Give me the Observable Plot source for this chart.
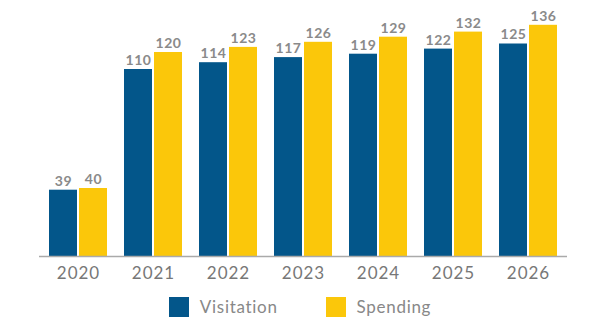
<!DOCTYPE html>
<html>
<head>
<meta charset="utf-8">
<script src="https://cdn.jsdelivr.net/npm/d3@7"></script>
<script src="https://cdn.jsdelivr.net/npm/@observablehq/plot@0.6"></script>
<style>
  body { margin: 0; background: #fff; font-family: Lato, "Open Sans", sans-serif; }
  #chart { width: 600px; height: 325px; position: relative; }
  .legend { position: absolute; top: 296px; left: 0; width: 600px; display: flex; justify-content: center; }
  .item { display: flex; align-items: center; font-size: 17px; color: #888; letter-spacing: 0.7px; }
  .swatch { width: 20px; height: 20px; margin-right: 11px; }
  g[aria-label="x-axis tick label"] text { letter-spacing: 1px; }
  g[aria-label="text"] text { letter-spacing: 0.6px; }
</style>
</head>
<body>
<div id="chart"></div>
<script>
const years = ["2020", "2021", "2022", "2023", "2024", "2025", "2026"];
const series = ["Visitation", "Spending"];
const visitation = [39, 110, 114, 117, 119, 122, 125];
const spending = [40, 120, 123, 126, 129, 132, 136];
const colors = ["#03568a", "#fbc70a"];

const data = [];
years.forEach((y, i) => {
  data.push({year: y, series: "Visitation", value: visitation[i]});
  data.push({year: y, series: "Spending", value: spending[i]});
});
const vis = data.filter(d => d.series === "Visitation");
const spd = data.filter(d => d.series === "Spending");

const plot = Plot.plot({
  width: 600,
  height: 285,
  marginLeft: 39,
  marginRight: 33,
  marginTop: 1,
  marginBottom: 29,
  style: {fontFamily: "Lato, 'Open Sans', sans-serif", background: "transparent"},
  x: {domain: years, paddingInner: 0.23, paddingOuter: 0.12, label: null},
  y: {domain: [0, 150], axis: null},
  marks: [
    Plot.barY(vis, {x: "year", y: "value", fill: colors[0], insetRight: 30}),
    Plot.barY(spd, {x: "year", y: "value", fill: colors[1], insetLeft: 30}),
    Plot.text(vis, {x: "year", y: "value", text: d => String(d.value), dx: -15, dy: -9, fontSize: 14, fontWeight: "bold", fill: "#8a8a8a"}),
    Plot.text(spd, {x: "year", y: "value", text: d => String(d.value), dx: 15, dy: -9, fontSize: 14, fontWeight: "bold", fill: "#8a8a8a"}),
    Plot.ruleY([0], {stroke: "#aaa", strokeWidth: 1.5}),
    Plot.axisX({tickSize: 0, tickPadding: 10, fontSize: 17, fill: "#777", label: null})
  ]
});
const chart = document.getElementById("chart");
chart.appendChild(plot);

const legend = document.createElement("div");
legend.className = "legend";
series.forEach((s, i) => {
  const item = document.createElement("div");
  item.className = "item";
  item.style.marginRight = i === 0 ? "48px" : "0";
  const sw = document.createElement("span");
  sw.className = "swatch";
  sw.style.background = colors[i];
  const t = document.createElement("span");
  t.textContent = s;
  item.appendChild(sw);
  item.appendChild(t);
  legend.appendChild(item);
});
chart.appendChild(legend);
</script>
</body>
</html>
